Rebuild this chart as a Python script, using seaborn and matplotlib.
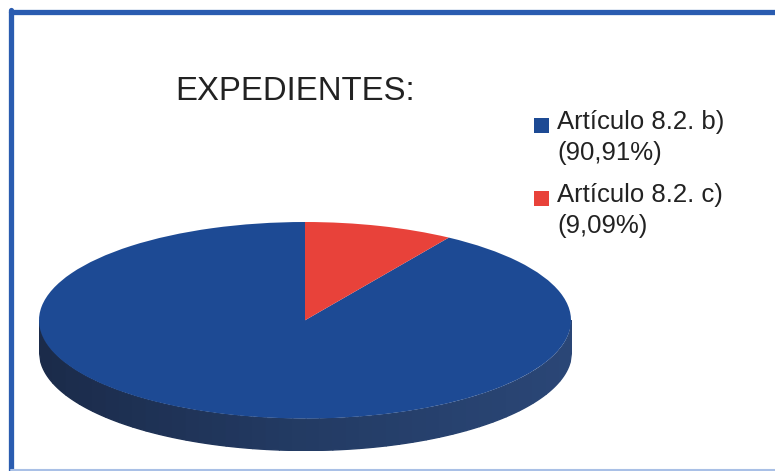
import numpy as np
import matplotlib
matplotlib.use('Agg')
import matplotlib.pyplot as plt
from matplotlib.patches import Rectangle
from matplotlib.lines import Line2D
import seaborn as sns

# datos del grafico
categorias = ['Artículo 8.2. b)', 'Artículo 8.2. c)']
porcentajes = [90.91, 9.09]
etiquetas = ['(90,91%)', '(9,09%)']
colores = ['#1d4a94', '#e8423a']
titulo = 'EXPEDIENTES:'

sns.set_style('white')
plt.rcParams['font.family'] = ['Liberation Sans', 'DejaVu Sans']

W, H = 775, 471
fig = plt.figure(figsize=(W / 100, H / 100), dpi=100)
fig.patch.set_facecolor('white')

# ejes en pixeles de la figura: elipse superior x 39..571, y 222..418, grosor ~32 px
x0, x1 = 39, 571
y_top, y_bot = 222, 450
ax = fig.add_axes([x0 / W, 1 - y_bot / H, (x1 - x0) / W, (y_bot - y_top) / H])
depth = 0.32

# lateral del cilindro (solo se ve la parte frontal azul)
xs = np.linspace(-1, 1, 400)
lado_sup = -np.sqrt(1 - xs ** 2)
n = 40
tonos = sns.blend_palette(['#1b2b4a', '#233b64', '#2a4676'], n)
for i in range(n):
    sl = slice(i * 400 // n, (i + 1) * 400 // n + 1)
    ax.fill_between(xs[sl], lado_sup[sl] - depth, lado_sup[sl], color=tonos[i],
                    lw=1.0, edgecolor=tonos[i])

# tapa superior
ax.pie(porcentajes, colors=colores, startangle=90, counterclock=True,
       radius=1, center=(0, 0), wedgeprops=dict(linewidth=0))
ax.set_aspect('auto')
ax.set_xlim(-1, 1)
ax.set_ylim(-1 - depth, 1)
ax.axis('off')

# titulo
fig.text(175 / W, 1 - 100 / H, titulo, fontsize=23.7, color='#222222', va='baseline')

# leyenda manual
ly = [129, 202]
for i in range(len(categorias)):
    fig.patches.append(Rectangle((534 / W, 1 - (ly[i] + 4) / H), 15 / W, 15 / H,
                                 transform=fig.transFigure, color=colores[i], lw=0))
    fig.text(557 / W, 1 - ly[i] / H, categorias[i], fontsize=18.5,
             color='#222222', va='baseline')
    fig.text(557 / W, 1 - (ly[i] + 31) / H, etiquetas[i], fontsize=18.5,
             color='#222222', va='baseline')

# marco azul (arriba e izquierda fuertes, abajo tenue)
fig.lines.append(Line2D([11 / W, 1.0], [1 - 11.5 / H, 1 - 11.5 / H],
                        transform=fig.transFigure, color='#2a5cb0', lw=3.8))
fig.lines.append(Line2D([11 / W, 11 / W], [1 - 10 / H, 0], transform=fig.transFigure,
                        color='#2a5cb0', lw=3.8))
fig.lines.append(Line2D([11 / W, 1.0], [1 - 469.5 / H, 1 - 469.5 / H],
                        transform=fig.transFigure, color='#a9c0e6', lw=1.5))

fig.savefig('out.png', dpi=100)
